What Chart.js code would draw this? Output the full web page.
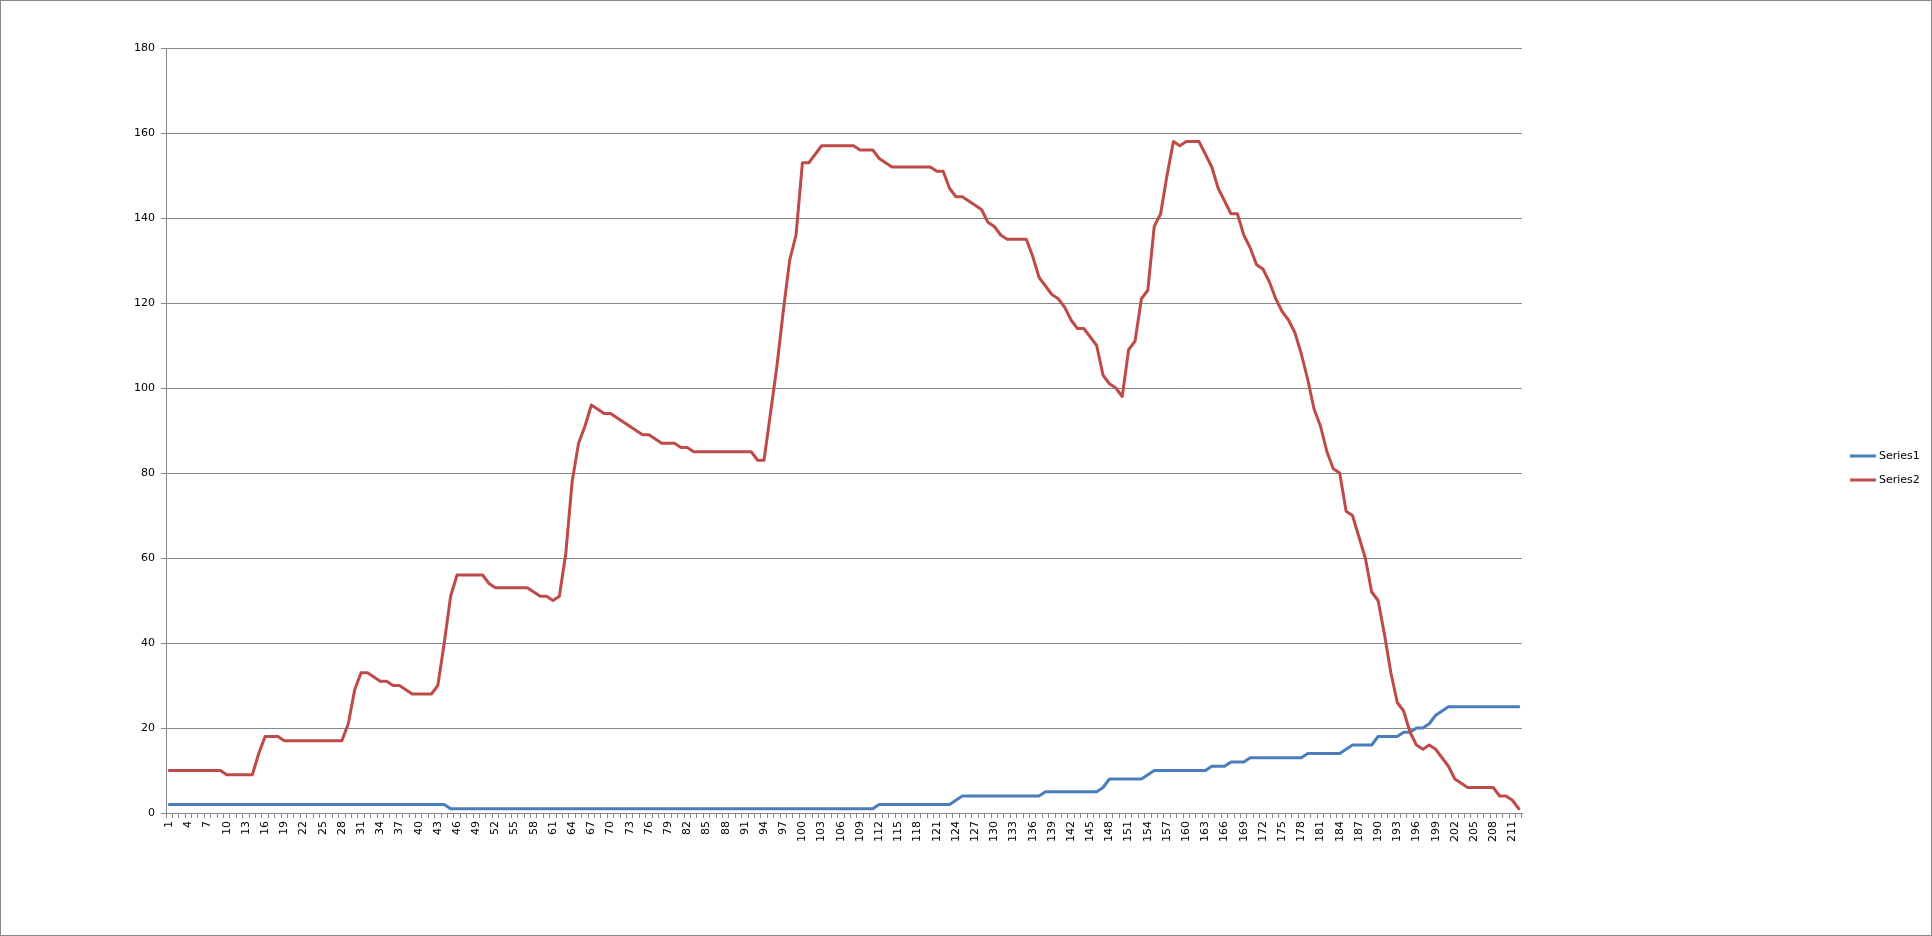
<!DOCTYPE html>
<html><head><meta charset="utf-8">
<script src="https://cdn.jsdelivr.net/npm/chart.js@4.4.1/dist/chart.umd.min.js"></script>
<style>html,body{margin:0;padding:0;background:#fff;overflow:hidden;} canvas{display:block;}</style>
</head><body>
<canvas id="c" width="1932" height="936"></canvas>
<script>
// Categories 1..212 (tick labels shown every 3rd)
const categories = [];
for (let i = 1; i <= 212; i++) categories.push(String(i));

const seriesNames = ['Series1', 'Series2'];

const series1 = [
  2,2,2,2,2,2,2,2,2,2,
  2,2,2,2,2,2,2,2,2,2,
  2,2,2,2,2,2,2,2,2,2,
  2,2,2,2,2,2,2,2,2,2,
  2,2,2,2,1,1,1,1,1,1,
  1,1,1,1,1,1,1,1,1,1,
  1,1,1,1,1,1,1,1,1,1,
  1,1,1,1,1,1,1,1,1,1,
  1,1,1,1,1,1,1,1,1,1,
  1,1,1,1,1,1,1,1,1,1,
  1,1,1,1,1,1,1,1,1,1,
  1,2,2,2,2,2,2,2,2,2,
  2,2,2,3,4,4,4,4,4,4,
  4,4,4,4,4,4,4,5,5,5,
  5,5,5,5,5,5,6,8,8,8,
  8,8,8,9,10,10,10,10,10,10,
  10,10,10,11,11,11,12,12,12,13,
  13,13,13,13,13,13,13,13,14,14,
  14,14,14,14,15,16,16,16,16,18,
  18,18,18,19,19,20,20,21,23,24,
  25,25,25,25,25,25,25,25,25,25,
  25,25
];

const series2 = [
  10,10,10,10,10,10,10,10,10,9,
  9,9,9,9,14,18,18,18,17,17,
  17,17,17,17,17,17,17,17,21,29,
  33,33,32,31,31,30,30,29,28,28,
  28,28,30,40,51,56,56,56,56,56,
  54,53,53,53,53,53,53,52,51,51,
  50,51,61,78,87,91,96,95,94,94,
  93,92,91,90,89,89,88,87,87,87,
  86,86,85,85,85,85,85,85,85,85,
  85,85,83,83,94,105,118,130,136,153,
  153,155,157,157,157,157,157,157,156,156,
  156,154,153,152,152,152,152,152,152,152,
  151,151,147,145,145,144,143,142,139,138,
  136,135,135,135,135,131,126,124,122,121,
  119,116,114,114,112,110,103,101,100,98,
  109,111,121,123,138,141,150,158,157,158,
  158,158,155,152,147,144,141,141,136,133,
  129,128,125,121,118,116,113,108,102,95,
  91,85,81,80,71,70,65,60,52,50,
  42,33,26,24,19,16,15,16,15,13,
  11,8,7,6,6,6,6,6,4,4,
  3,1
];

const yMin = 0, yMax = 180, yStep = 20;

const AXIS = '#868686';
const FONT = '"DejaVu Sans", Verdana, sans-serif';

const framePlugin = {
  id: 'frame',
  beforeDraw(chart) {
    const ctx = chart.ctx;
    ctx.save();
    ctx.fillStyle = '#ffffff';
    ctx.fillRect(0, 0, chart.width, chart.height);
    ctx.strokeStyle = '#898989';
    ctx.lineWidth = 1;
    ctx.strokeRect(0.5, 0.5, chart.width - 1, chart.height - 1);
    ctx.restore();
  }
};

const sideLegend = {
  id: 'sideLegend',
  afterDraw(chart) {
    const ctx = chart.ctx;
    ctx.save();
    chart.data.datasets.forEach((ds, i) => {
      const y = 456 + i * 24;
      ctx.strokeStyle = ds.borderColor;
      ctx.lineWidth = 3;
      ctx.beginPath();
      ctx.moveTo(1850, y);
      ctx.lineTo(1876, y);
      ctx.stroke();
      ctx.fillStyle = '#000';
      ctx.font = '11px ' + FONT;
      ctx.textBaseline = 'middle';
      ctx.textAlign = 'left';
      ctx.fillText(ds.label, 1879, y);
    });
    ctx.restore();
  }
};

new Chart(document.getElementById('c'), {
  type: 'line',
  data: {
    labels: categories,
    datasets: [
      { label: seriesNames[0], data: series1, borderColor: '#4A7EBB', backgroundColor: '#4A7EBB',
        borderWidth: 3, pointRadius: 0, tension: 0, borderJoinStyle: 'round', borderCapStyle: 'round', order: 1 },
      { label: seriesNames[1], data: series2, borderColor: '#BE4B48', backgroundColor: '#BE4B48',
        borderWidth: 3, pointRadius: 0, tension: 0, borderJoinStyle: 'round', borderCapStyle: 'round', order: 0 }
    ]
  },
  options: {
    responsive: false,
    animation: false,
    devicePixelRatio: 1,
    layout: { padding: { left: 0, top: 48, right: 410, bottom: 0 } },
    plugins: { legend: { display: false }, tooltip: { enabled: false } },
    scales: {
      x: {
        type: 'category',
        offset: true,
        grid: { display: true, drawOnChartArea: false, drawTicks: true, tickLength: 5, color: AXIS, offset: true },
        border: { display: true, color: AXIS, width: 1 },
        ticks: {
          autoSkip: false, minRotation: 90, maxRotation: 90, padding: 3,
          color: '#000', font: { family: FONT, size: 11 },
          callback: function (value, index) { return index % 3 === 0 ? this.getLabelForValue(value) : ''; }
        },
        afterFit: (s) => { s.height = 123; }
      },
      y: {
        min: yMin, max: yMax,
        grid: { color: AXIS, lineWidth: 1, drawTicks: true, tickLength: 5 },
        border: { display: true, color: AXIS, width: 1 },
        ticks: { stepSize: yStep, padding: 6, color: '#000', font: { family: FONT, size: 11 } },
        afterFit: (s) => { s.width = 166; }
      }
    }
  },
  plugins: [framePlugin, sideLegend]
});
</script>
</body></html>
